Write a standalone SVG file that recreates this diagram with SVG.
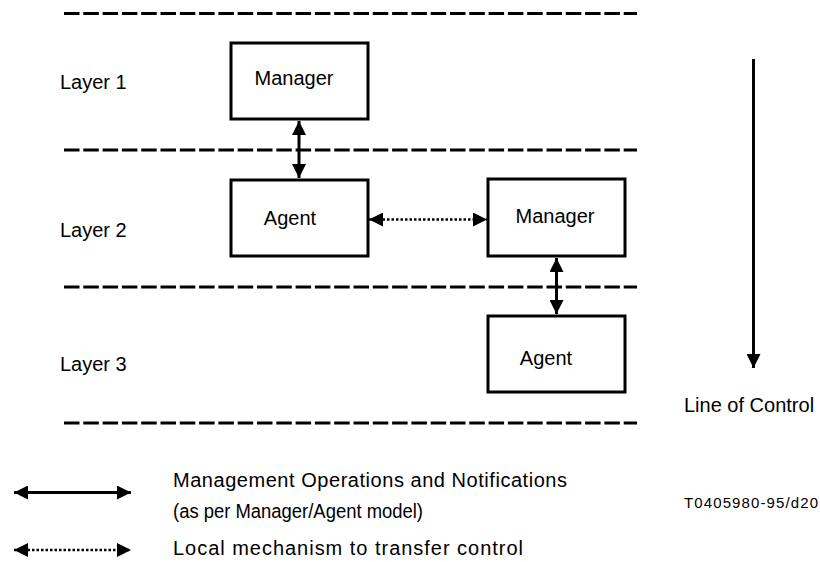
<svg xmlns="http://www.w3.org/2000/svg" width="820" height="562" viewBox="0 0 820 562">
<style>
text{font-family:"Liberation Sans",Arial,sans-serif;font-size:20px;fill:#000}
.box{fill:#fff;stroke:#000;stroke-width:3}
.sep{stroke:#000;stroke-width:3;stroke-dasharray:15.5 3.8;fill:none}
.solid{stroke:#000;stroke-width:3;fill:none}
.dot{stroke:#000;stroke-width:2.5;stroke-dasharray:2.5 2;fill:none}
</style>
<defs>
<marker id="ah" markerUnits="userSpaceOnUse" markerWidth="14" markerHeight="14" viewBox="0 0 13 13" refX="13" refY="6.5" orient="auto-start-reverse">
<path d="M0,0 L13,6.5 L0,13 Z" fill="#000"/>
</marker>
</defs>
<g id="separators">
<line class="sep" x1="64" y1="13.5" x2="637" y2="13.5"/>
<line class="sep" x1="64" y1="150" x2="637" y2="150"/>
<line class="sep" x1="64" y1="287" x2="637" y2="287"/>
<line class="sep" x1="64" y1="423" x2="637" y2="423"/>
</g>
<g id="layer-labels">
<text x="60" y="89">Layer 1</text>
<text x="60" y="237">Layer 2</text>
<text x="60" y="371">Layer 3</text>
</g>
<g id="connectors">
<line class="solid" x1="299" y1="121" x2="299" y2="178" marker-start="url(#ah)" marker-end="url(#ah)"/>
<line class="solid" x1="556.5" y1="258" x2="556.5" y2="314" marker-start="url(#ah)" marker-end="url(#ah)"/>
<line class="dot" x1="369" y1="219.5" x2="487" y2="219.5" marker-start="url(#ah)" marker-end="url(#ah)"/>
<line class="solid" x1="753.5" y1="59" x2="753.5" y2="368" marker-end="url(#ah)"/>
</g>
<g id="manager1">
<rect class="box" x="231" y="43" width="137" height="76"/>
<text x="294" y="85" text-anchor="middle">Manager</text>
</g>
<g id="agent2">
<rect class="box" x="231" y="180" width="137" height="76"/>
<text x="290" y="225" text-anchor="middle">Agent</text>
</g>
<g id="manager2">
<rect class="box" x="488" y="179" width="137" height="77"/>
<text x="555" y="223" text-anchor="middle">Manager</text>
</g>
<g id="agent3">
<rect class="box" x="488" y="316" width="137" height="76"/>
<text x="546" y="365" text-anchor="middle">Agent</text>
</g>
<text x="684" y="412">Line of Control</text>
<g id="legend">
<line class="solid" x1="14" y1="492.5" x2="131" y2="492.5" marker-start="url(#ah)" marker-end="url(#ah)"/>
<line class="dot" x1="14" y1="550" x2="131" y2="550" marker-start="url(#ah)" marker-end="url(#ah)"/>
<text x="173" y="487" textLength="394" lengthAdjust="spacing">Management Operations and Notifications</text>
<text x="173" y="518" textLength="250" lengthAdjust="spacingAndGlyphs">(as per Manager/Agent model)</text>
<text x="173" y="555" textLength="350" lengthAdjust="spacing">Local mechanism to transfer control</text>
</g>
<text x="684" y="508" style="font-size:15px" textLength="134" lengthAdjust="spacing">T0405980-95/d20</text>
</svg>
